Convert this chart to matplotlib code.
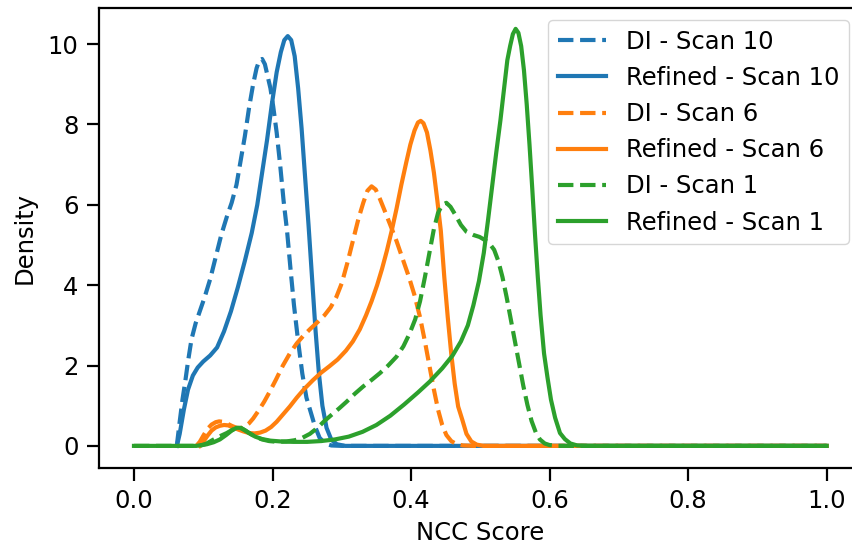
import matplotlib
matplotlib.use("Agg")
import matplotlib.pyplot as plt

# values (NCC score vs density)
di10_x = [0.062, 0.0625, 0.066, 0.070, 0.074, 0.078, 0.083, 0.089, 0.095, 0.102, 0.110, 0.118,
          0.126, 0.134, 0.141, 0.148, 0.154, 0.160, 0.166, 0.172, 0.177, 0.181, 0.185, 0.189,
          0.193, 0.197, 0.201, 0.206, 0.211, 0.216, 0.221, 0.226, 0.231, 0.237, 0.243, 0.249,
          0.255, 0.261, 0.268, 0.276, 0.285, 0.300, 1.0]
di10_y = [0.0, 0.10, 0.60, 1.15, 1.60, 2.10, 2.65, 3.05, 3.35, 3.70, 4.15, 4.70,
          5.25, 5.70, 6.05, 6.50, 7.10, 7.70, 8.40, 9.00, 9.40, 9.60, 9.63, 9.50,
          9.20, 8.90, 8.45, 7.80, 7.00, 6.10, 5.35, 4.40, 3.50, 2.60, 1.80, 1.20,
          0.85, 0.50, 0.20, 0.06, 0.01, 0.0, 0.0]

ref10_x = [0.062, 0.066, 0.072, 0.078, 0.085, 0.092, 0.100, 0.110, 0.120, 0.130, 0.140, 0.150,
           0.160, 0.170, 0.178, 0.185, 0.192, 0.199, 0.206, 0.212, 0.217, 0.222, 0.227, 0.232,
           0.237, 0.242, 0.247, 0.252, 0.257, 0.262, 0.267, 0.272, 0.278, 0.285, 0.293, 0.305,
           1.0]
ref10_y = [0.0, 0.30, 0.90, 1.40, 1.75, 1.95, 2.10, 2.25, 2.45, 2.85, 3.35, 3.95,
           4.60, 5.30, 6.00, 6.80, 7.60, 8.50, 9.30, 9.80, 10.10, 10.20, 10.10, 9.70,
           8.90, 7.90, 6.70, 5.50, 4.20, 2.90, 1.80, 1.00, 0.45, 0.15, 0.04, 0.0,
           0.0]

di6_x = [0.090, 0.095, 0.100, 0.106, 0.112, 0.118, 0.123, 0.128, 0.134, 0.141, 0.148, 0.154,
         0.160, 0.166, 0.172, 0.180, 0.188, 0.196, 0.205, 0.215, 0.225, 0.235, 0.245, 0.255,
         0.265, 0.275, 0.284, 0.292, 0.300, 0.308, 0.316, 0.324, 0.331, 0.337, 0.343, 0.349,
         0.355, 0.362, 0.370, 0.379, 0.388, 0.397, 0.405, 0.413, 0.420, 0.427, 0.433, 0.439,
         0.445, 0.451, 0.458, 0.466, 0.475, 0.490, 1.0]
di6_y = [0.0, 0.10, 0.25, 0.42, 0.53, 0.59, 0.61, 0.60, 0.56, 0.50, 0.45, 0.44,
         0.48, 0.56, 0.68, 0.88, 1.10, 1.35, 1.65, 2.00, 2.30, 2.55, 2.75, 2.92,
         3.08, 3.25, 3.45, 3.70, 4.05, 4.55, 5.10, 5.65, 6.05, 6.35, 6.46, 6.38,
         6.15, 5.85, 5.50, 5.10, 4.65, 4.20, 3.75, 3.20, 2.60, 1.95, 1.40, 0.90,
         0.52, 0.27, 0.12, 0.04, 0.01, 0.0, 0.0]

ref6_x = [0.095, 0.100, 0.106, 0.112, 0.118, 0.124, 0.130, 0.136, 0.143, 0.150, 0.158, 0.166,
          0.174, 0.182, 0.190, 0.198, 0.206, 0.215, 0.225, 0.235, 0.246, 0.258, 0.270, 0.282,
          0.294, 0.306, 0.316, 0.326, 0.335, 0.343, 0.351, 0.358, 0.365, 0.372, 0.379, 0.386,
          0.393, 0.399, 0.405, 0.410, 0.414, 0.418, 0.423, 0.428, 0.433, 0.438, 0.443, 0.448,
          0.453, 0.458, 0.463, 0.468, 0.474, 0.480, 0.487, 0.495, 0.505, 1.0]
ref6_y = [0.0, 0.10, 0.25, 0.38, 0.46, 0.50, 0.52, 0.51, 0.46, 0.41, 0.36, 0.32,
          0.31, 0.33, 0.38, 0.47, 0.60, 0.78, 0.98, 1.20, 1.42, 1.63, 1.82, 1.98,
          2.15, 2.37, 2.60, 2.90, 3.25, 3.60, 4.00, 4.40, 4.85, 5.35, 5.90, 6.50,
          7.05, 7.50, 7.85, 8.05, 8.09, 8.03, 7.80, 7.35, 6.80, 6.10, 5.35, 4.20,
          3.20, 2.30, 1.55, 0.98, 0.65, 0.30, 0.11, 0.03, 0.0, 0.0]

di1_x = [0.0, 0.095, 0.104, 0.114, 0.124, 0.134, 0.142, 0.149, 0.155, 0.161, 0.168, 0.176,
         0.185, 0.195, 0.207, 0.220, 0.232, 0.243, 0.254, 0.265, 0.275, 0.285, 0.296, 0.307,
         0.319, 0.331, 0.343, 0.355, 0.367, 0.379, 0.389, 0.398, 0.406, 0.413, 0.420, 0.427,
         0.433, 0.439, 0.445, 0.451, 0.457, 0.464, 0.472, 0.480, 0.490, 0.499, 0.507, 0.514,
         0.520, 0.526, 0.532, 0.538, 0.544, 0.550, 0.556, 0.562, 0.568, 0.574, 0.580, 0.586,
         0.593, 0.600, 0.612, 1.0]
di1_y = [0.0, 0.0, 0.05, 0.15, 0.24, 0.32, 0.40, 0.45, 0.44, 0.38, 0.30, 0.22,
         0.16, 0.12, 0.10, 0.11, 0.14, 0.20, 0.30, 0.45, 0.62, 0.77, 0.93, 1.10,
         1.30, 1.48, 1.64, 1.81, 2.00, 2.22, 2.48, 2.80, 3.15, 3.60, 4.20, 4.85,
         5.40, 5.80, 6.00, 6.05, 5.95, 5.75, 5.50, 5.33, 5.25, 5.20, 5.12, 5.02,
         4.88, 4.60, 4.20, 3.70, 3.15, 2.60, 2.05, 1.50, 1.02, 0.62, 0.34, 0.16,
         0.06, 0.02, 0.0, 0.0]

ref1_x = [0.0, 0.090, 0.105, 0.115, 0.124, 0.133, 0.141, 0.148, 0.154, 0.160, 0.167, 0.175,
          0.185, 0.197, 0.212, 0.230, 0.250, 0.270, 0.290, 0.310, 0.330, 0.350, 0.370, 0.390,
          0.410, 0.427, 0.445, 0.460, 0.472, 0.482, 0.490, 0.498, 0.505, 0.511, 0.517, 0.523,
          0.529, 0.534, 0.539, 0.543, 0.547, 0.551, 0.555, 0.559, 0.563, 0.567, 0.571, 0.575,
          0.579, 0.583, 0.587, 0.592, 0.597, 0.602, 0.608, 0.615, 0.622, 0.630, 0.640, 0.655,
          1.0]
ref1_y = [0.0, 0.0, 0.04, 0.09, 0.16, 0.27, 0.38, 0.45, 0.45, 0.39, 0.31, 0.23,
          0.17, 0.13, 0.11, 0.10, 0.10, 0.12, 0.16, 0.23, 0.35, 0.52, 0.75, 1.03,
          1.33, 1.60, 1.93, 2.25, 2.60, 3.00, 3.50, 4.10, 4.80, 5.60, 6.45, 7.30,
          8.10, 8.85, 9.60, 9.95, 10.25, 10.38, 10.28, 9.95, 9.35, 8.50, 7.50, 6.40,
          5.25, 4.20, 3.25, 2.30, 1.70, 1.15, 0.70, 0.32, 0.17, 0.06, 0.01, 0.0,
          0.0]

plt.rcParams["font.size"] = 17.5
plt.rcParams["axes.linewidth"] = 1.6
for ax_name in ("xtick", "ytick"):
    plt.rcParams[ax_name + ".major.size"] = 9
    plt.rcParams[ax_name + ".major.width"] = 1.6
    plt.rcParams[ax_name + ".major.pad"] = 6

fig = plt.figure(figsize=(8.52, 5.46), dpi=100)
# axes runs slightly past the right edge, like the reference
ax = fig.add_axes([0.1166, 0.1429, 0.8943, 0.8425])

lw = 3.0
ax.plot(di10_x, di10_y, "--", color="#1f77b4", lw=lw, label="DI - Scan 10")
ax.plot(ref10_x, ref10_y, "-", color="#1f77b4", lw=lw, label="Refined - Scan 10")
ax.plot(di6_x, di6_y, "--", color="#ff7f0e", lw=lw, label="DI - Scan 6")
ax.plot(ref6_x, ref6_y, "-", color="#ff7f0e", lw=lw, label="Refined - Scan 6")
ax.plot(di1_x, di1_y, "--", color="#2ca02c", lw=lw, label="DI - Scan 1")
ax.plot(ref1_x, ref1_y, "-", color="#2ca02c", lw=lw, label="Refined - Scan 1")

ax.set_xlim(-0.05, 1.05)
ax.set_ylim(-0.55, 10.9)
ax.set_xticks([0.0, 0.2, 0.4, 0.6, 0.8, 1.0])
ax.set_yticks([0, 2, 4, 6, 8, 10])
ax.set_xlabel("NCC Score", labelpad=6)
ax.set_ylabel("Density", labelpad=8)
ax.legend(loc="upper right")

fig.savefig("out.png", dpi=100)
